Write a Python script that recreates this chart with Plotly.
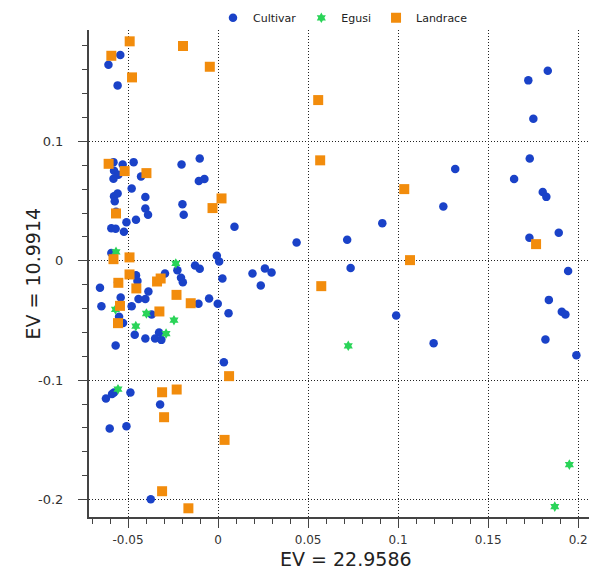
import plotly.graph_objects as go

# ---- data ----
cultivar_x = [-0.0543, -0.0609, -0.0558, 0.1831, 0.1723, 0.1751, 0.1731, 0.1644, 0.1317, 0.1803,
              0.1823, 0.1892, 0.1729, 0.1251, 0.0912, 0.0717, 0.0436, 0.0736, 0.0989, 0.1197,
              0.1944, 0.1837, 0.1909, 0.1929, 0.1818, 0.1990, -0.0581, -0.0530, -0.0469, -0.0578,
              -0.0554, -0.0581, -0.0428, -0.0203, -0.0102, -0.0107, -0.0076, -0.0480, -0.0578, -0.0558,
              -0.0404, -0.0574, -0.0198, -0.0191, -0.0404, -0.0389, -0.0567, -0.0509, -0.0456, -0.0593,
              -0.0569, -0.0523, 0.0091, -0.0593, -0.0007, 0.0006, -0.0128, -0.0102, -0.0226, -0.0295,
              -0.0456, -0.0448, -0.0206, -0.0196, 0.0024, 0.0191, 0.0260, 0.0297, 0.0237, -0.0656,
              -0.0556, -0.0387, -0.0541, -0.0442, -0.0404, -0.0050, -0.0002, -0.0109, -0.0648, -0.0480,
              -0.0369, -0.0550, -0.0528, 0.0058, -0.0463, -0.0404, -0.0328, -0.0350, -0.0315, -0.0569,
              0.0032, -0.0623, -0.0589, -0.0578, -0.0487, -0.0322, -0.0602, -0.0509, -0.0374]
cultivar_y = [0.1724, 0.1643, 0.1470, 0.1593, 0.1512, 0.1190, 0.0858, 0.0685, 0.0769, 0.0576,
              0.0536, 0.0235, 0.0193, 0.0456, 0.0316, 0.0176, 0.0154, -0.0059, -0.0458, -0.0690,
              -0.0086, -0.0327, -0.0427, -0.0449, -0.0659, -0.0790, 0.0827, 0.0808, 0.0827, 0.0754,
              0.0721, 0.0687, 0.0707, 0.0808, 0.0858, 0.0668, 0.0685, 0.0607, 0.0542, 0.0565,
              0.0534, 0.0500, 0.0475, 0.0386, 0.0439, 0.0386, 0.0411, 0.0324, 0.0344, 0.0274,
              0.0268, 0.0243, 0.0285, 0.0065, 0.0042, -0.0005, -0.0039, -0.0067, -0.0078, -0.0106,
              -0.0120, -0.0168, -0.0142, -0.0179, -0.0148, -0.0106, -0.0064, -0.0097, -0.0206, -0.0226,
              -0.0179, -0.0256, -0.0307, -0.0319, -0.0319, -0.0315, -0.0360, -0.0360, -0.0380, -0.0380,
              -0.0449, -0.0469, -0.0520, -0.0438, -0.0620, -0.0650, -0.0600, -0.0650, -0.0662, -0.0709,
              -0.0849, -0.1153, -0.1115, -0.1103, -0.1103, -0.1204, -0.1405, -0.1386, -0.1998]

landrace_x = [-0.0491, -0.0593, -0.0195, -0.0046, -0.0478, 0.0556, 0.0567, -0.0608, -0.0519, -0.0398,
              0.0019, -0.0031, -0.0567, 0.1034, 0.1766, 0.1066, -0.0581, -0.0492, -0.0492, -0.0554,
              -0.0339, -0.0319, -0.0454, -0.0231, 0.0573, -0.0152, -0.0545, -0.0326, -0.0556, 0.0061,
              -0.0311, -0.0230, -0.0300, 0.0036, -0.0311, -0.0165]
landrace_y = [0.1839, 0.1718, 0.1800, 0.1626, 0.1537, 0.1347, 0.0842, 0.0813, 0.0752, 0.0735,
              0.0523, 0.0442, 0.0397, 0.0601, 0.0140, 0.0006, 0.0014, 0.0029, -0.0114, -0.0184,
              -0.0173, -0.0148, -0.0231, -0.0285, -0.0212, -0.0355, -0.0377, -0.0424, -0.0522, -0.0966,
              -0.1101, -0.1078, -0.1310, -0.1500, -0.1930, -0.2073]

egusi_x = [-0.0567, -0.0235, -0.0570, -0.0398, -0.0457, -0.0245, -0.0289, -0.0556, 0.0723, 0.1951, 0.1870]
egusi_y = [0.0075, -0.0022, -0.0407, -0.0441, -0.0547, -0.0497, -0.0609, -0.1075, -0.0712, -0.1707, -0.2059]

x_tickvals = [-0.05, 0, 0.05, 0.1, 0.15, 0.2]
x_ticktext = ["-0.05", "0", "0.05", "0.1", "0.15", "0.2"]
y_tickvals = [-0.2, -0.1, 0, 0.1]
y_ticktext = ["-0.2", "-0.1", "0", "0.1"]

x_title = "EV = 22.9586"
y_title = "EV = 10.9914"

# ---- figure ----
fig = go.Figure()
fig.add_trace(go.Scatter(x=cultivar_x, y=cultivar_y, mode="markers", name="Cultivar",
                         marker=dict(symbol="circle", size=8.5, color="#1a42c8")))
fig.add_trace(go.Scatter(x=egusi_x, y=egusi_y, mode="markers", name="Egusi",
                         marker=dict(symbol="hexagram", size=8, color="#2ad458")))
fig.add_trace(go.Scatter(x=landrace_x, y=landrace_y, mode="markers", name="Landrace",
                         marker=dict(symbol="square", size=10, color="#f28c0c")))

axis_common = dict(
    showgrid=True, gridcolor="#222", gridwidth=1, griddash="1px,2px",
    zeroline=False, showline=True, linecolor="#444", linewidth=2,
    ticks="outside", ticklen=9, tickwidth=1, tickcolor="#444",
    mirror=False,
)

fig.update_xaxes(**axis_common, range=[-0.0717, 0.206],
                 tickfont=dict(family="DejaVu Sans", size=12, color="#333"),
                 tickmode="array", tickvals=x_tickvals, ticktext=x_ticktext,
                 minor=dict(dtick=0.01, tick0=0, ticks="outside", ticklen=5, tickcolor="#444", showgrid=False),
                 ticklabelstandoff=2)
fig.update_yaxes(**axis_common, range=[-0.2146, 0.1934],
                 tickfont=dict(family="DejaVu Sans", size=13, color="#333"),
                 tickmode="array", tickvals=y_tickvals, ticktext=y_ticktext,
                 minor=dict(dtick=0.02, tick0=0, ticks="outside", ticklen=5, tickcolor="#444", showgrid=False),
                 ticklabelstandoff=12)

fig.add_annotation(text=x_title, xref="paper", yref="paper", x=0.514, y=-0.087,
                   xanchor="center", yanchor="middle", showarrow=False,
                   font=dict(family="DejaVu Sans", size=19, color="#222"))
fig.add_annotation(text=y_title, xref="paper", yref="paper", x=-0.114, y=0.5,
                   xanchor="center", yanchor="middle", showarrow=False, textangle=-90,
                   font=dict(family="DejaVu Sans", size=19, color="#222"))

fig.update_layout(
    width=589, height=569,
    margin=dict(l=89, r=0, t=30, b=52),
    paper_bgcolor="white", plot_bgcolor="white",
    showlegend=True,
    legend=dict(orientation="h", x=0.508, xanchor="center", y=1.025, yanchor="middle",
                font=dict(family="DejaVu Sans", size=11, color="#222"),
                bgcolor="rgba(0,0,0,0)", itemclick=False),
)

fig.write_html("out.html")
